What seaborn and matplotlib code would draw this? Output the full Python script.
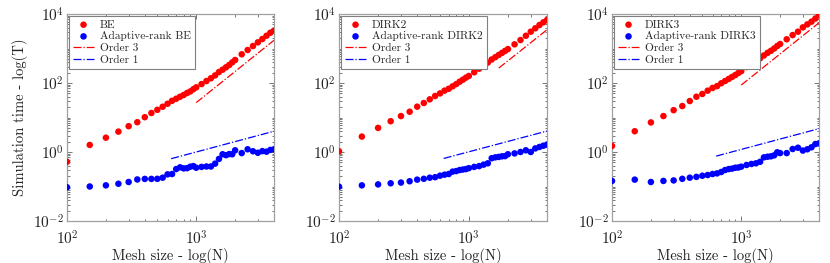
import numpy as np
import pandas as pd
import matplotlib
matplotlib.use("Agg")
import matplotlib.pyplot as plt
import matplotlib.ticker as mticker
import seaborn as sns

# Mesh sizes (shared by all three panels)
mesh_n = [100, 150, 200, 250, 300, 350, 400, 450, 500, 550, 600, 650, 700, 750,
          800, 850, 900, 950, 1000, 1100, 1200, 1300, 1400, 1500, 1600, 1700,
          1800, 1900, 2000, 2250, 2500, 2750, 3000, 3250, 3500, 3750, 4000]

# Simulation times
time_be = [0.52, 1.6, 2.6, 3.9, 5.6, 7.3, 10.2, 13.5, 16.7, 20.5, 25, 30.5, 35, 40,
           45, 51.5, 57, 66, 75, 93, 114, 137, 166, 208, 243, 285,
           333, 397, 464, 680, 905, 1180, 1510, 1885, 2340, 2870, 3300]
time_ar_be = [0.095, 0.10, 0.108, 0.12, 0.135, 0.16, 0.166, 0.166, 0.167, 0.18, 0.225, 0.23, 0.32, 0.36,
              0.335, 0.34, 0.375, 0.39, 0.35, 0.37, 0.38, 0.38, 0.46, 0.63, 0.86, 0.81,
              0.87, 0.86, 1.12, 0.93, 1.2, 1.05, 0.95, 1.06, 1.02, 1.15, 1.2]

time_dirk2 = [1.05, 2.8, 5.0, 7.8, 11, 14.7, 20.6, 26.3, 33.6, 42, 50, 60, 68, 80,
              93, 109, 125, 143, 160, 205, 260, 325, 390, 480, 560, 650,
              745, 850, 960, 1320, 1760, 2340, 3070, 3850, 4800, 5740, 6700]
time_ar_dirk2 = [0.099, 0.108, 0.115, 0.124, 0.13, 0.142, 0.158, 0.167, 0.18, 0.186, 0.206, 0.22, 0.23, 0.27,
                 0.28, 0.30, 0.31, 0.32, 0.34, 0.37, 0.39, 0.43, 0.47, 0.66, 0.70, 0.72,
                 0.75, 0.76, 0.86, 0.91, 1.0, 1.12, 1.0, 1.27, 1.4, 1.52, 1.64]

time_dirk3 = [1.5, 4.0, 7.2, 11, 16.3, 21.5, 30, 40, 48, 60, 72, 81, 98, 114,
              131, 150, 170, 195, 220, 290, 365, 440, 520, 630, 750, 860,
              1000, 1180, 1350, 1850, 2450, 3070, 4100, 5000, 6000, 7400, 9300]
time_ar_dirk3 = [0.145, 0.158, 0.135, 0.145, 0.15, 0.167, 0.18, 0.19, 0.205, 0.215, 0.23, 0.24, 0.263, 0.30,
                 0.32, 0.33, 0.35, 0.355, 0.375, 0.42, 0.45, 0.47, 0.52, 0.70, 0.73, 0.75,
                 0.80, 0.98, 0.93, 0.93, 1.22, 1.33, 1.1, 1.2, 1.37, 1.7, 1.78]

# Reference slopes (end points)
order3_n = [[1000, 4000], [1700, 4000], [1000, 4000]]
order3_t = [[27, 1730], [270, 3500], [87, 5570]]
order1_n = [[640, 4000], [640, 4000], [640, 4000]]
order1_t = [[0.64, 4.0], [0.65, 4.05], [0.76, 4.75]]

methods = ["BE", "DIRK2", "DIRK3"]
full_times = [time_be, time_dirk2, time_dirk3]
ar_times = [time_ar_be, time_ar_dirk2, time_ar_dirk3]

sns.set_style("ticks")
plt.rcParams["font.family"] = ["cmr10", "DejaVu Serif"]
plt.rcParams["mathtext.fontset"] = "cm"
plt.rcParams["axes.formatter.use_mathtext"] = True
plt.rcParams["axes.unicode_minus"] = True

fig = plt.figure(figsize=(8.3, 2.63), dpi=100)
lefts = [67 / 830, 339 / 830, 612 / 830]
widths = [207 / 830, 208 / 830, 207 / 830]

for i, name in enumerate(methods):
    ax = fig.add_axes([lefts[i], 42 / 263, widths[i], 207 / 263])
    df = pd.DataFrame({"N": mesh_n, "full": full_times[i], "ar": ar_times[i]})

    sns.scatterplot(data=df, x="N", y="full", color="#ff0000", s=22, edgecolor="none",
                    label=name, ax=ax, zorder=3)
    sns.scatterplot(data=df, x="N", y="ar", color="#0000ff", s=22, edgecolor="none",
                    label="Adaptive-rank " + name, ax=ax, zorder=3)
    sns.lineplot(x=order3_n[i], y=order3_t[i], color="#ff0000", linestyle="-.", lw=0.9,
                 label="Order 3", ax=ax)
    sns.lineplot(x=order1_n[i], y=order1_t[i], color="#0000ff", linestyle="-.", lw=0.9,
                 label="Order 1", ax=ax)

    ax.set_xscale("log")
    ax.set_yscale("log")
    ax.set_xlim(100, 4000)
    ax.set_ylim(1e-2, 1e4)
    ax.yaxis.set_major_locator(mticker.FixedLocator([1e-2, 1e0, 1e2, 1e4]))
    ax.yaxis.set_minor_locator(mticker.LogLocator(base=10, subs=np.arange(1, 10), numticks=20))
    ax.yaxis.set_minor_formatter(mticker.NullFormatter())
    ax.xaxis.set_minor_formatter(mticker.NullFormatter())

    for sp in ax.spines.values():
        sp.set_visible(True)
        sp.set_color("#a0a0a0")
        sp.set_linewidth(0.9)
    ax.tick_params(which="both", direction="in", top=True, right=True, colors="#606060",
                   labelcolor="#222222", labelsize=11, width=0.6)
    ax.tick_params(which="major", length=3.5)
    ax.tick_params(which="minor", length=1.8)
    ax.tick_params(axis="x", which="major", pad=6)
    ax.tick_params(axis="y", which="major", pad=2)

    ax.set_xlabel("Mesh size - log(N)", fontsize=10.5, color="#222222", labelpad=0)
    if i == 0:
        ax.set_ylabel("Simulation time - log(T)", fontsize=10.5, color="#222222", labelpad=4)
    else:
        ax.set_ylabel("")

    leg = ax.legend(loc="upper left", fontsize=8.2, frameon=True, fancybox=False,
                    borderaxespad=0.15, labelspacing=0.15, handlelength=1.9,
                    handletextpad=0.5, borderpad=0.35)
    leg.get_frame().set_edgecolor("#808080")
    leg.get_frame().set_linewidth(0.8)
    leg.get_frame().set_alpha(1)

fig.savefig("out.png", dpi=100)
